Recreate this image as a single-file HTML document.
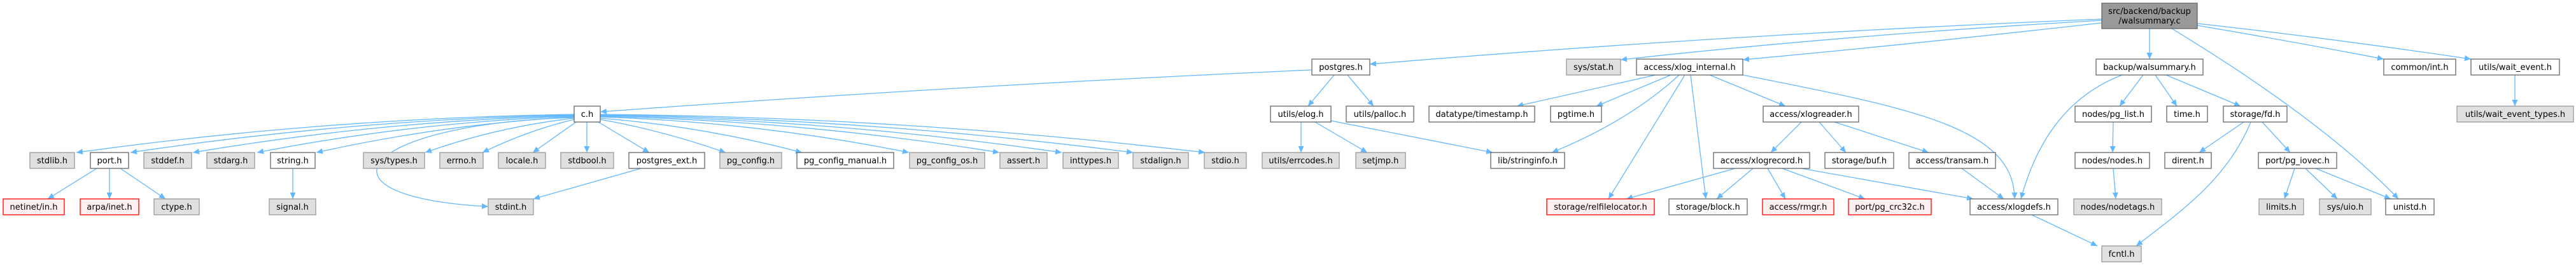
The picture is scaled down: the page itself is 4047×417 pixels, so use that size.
<!DOCTYPE html>
<html><head><meta charset="utf-8"><style>
html,body{margin:0;padding:0;background:#fff;}
svg{display:block;}
text{font-family:"DejaVu Sans","Liberation Sans",sans-serif;font-size:13px;fill:#000;text-anchor:middle;}
.w{fill:#fff;stroke:#666;stroke-width:1.3}
.g{fill:#e0e0e0;stroke:#999;stroke-width:1.3}
.r{fill:#fff0f0;stroke:#f00;stroke-width:1.3}
.t{fill:#999;stroke:#666;stroke-width:1.3}
path.e{fill:none;stroke:#63b8ff;stroke-width:1.3;marker-end:url(#a)}
</style></head><body>
<svg width="4047" height="417" viewBox="0 0 4047 417" xmlns="http://www.w3.org/2000/svg">
<defs><marker id="a" markerUnits="userSpaceOnUse" markerWidth="11" markerHeight="9" refX="10" refY="4.5" orient="auto"><path d="M0,0 L10,4.5 L0,9 z" fill="#63b8ff"/></marker></defs>

<!-- edges from top node -->
<path class="e" d="M3302,30 Q2700,55 2152,101"/>
<path class="e" d="M3302,32 Q2900,55 2546,94"/>
<path class="e" d="M3302,36 Q3000,70 2738,94"/>
<path class="e" d="M3377,45 L3377,93"/>
<path class="e" d="M3452,40 Q3600,65 3745,93"/>
<path class="e" d="M3452,37 Q3660,60 3882,93"/>
<path class="e" d="M3412,45 Q3650,190 3768,313"/>

<!-- postgres.h -->
<path class="e" d="M2061,110 Q1500,135 943,176"/>
<path class="e" d="M2096,118 L2055,167"/>
<path class="e" d="M2117,118 L2158,167"/>
<!-- elog -->
<path class="e" d="M2044,192 L2044,240"/>
<path class="e" d="M2066,192 L2148,240"/>
<path class="e" d="M2091,190 L2345,240"/>
<!-- xlog_internal -->
<path class="e" d="M2601,118 L2383,167"/>
<path class="e" d="M2625,118 L2508,167"/>
<path class="e" d="M2638,118 Q2560,190 2438,240"/>
<path class="e" d="M2647,118 L2527,313"/>
<path class="e" d="M2656,118 L2680,313"/>
<path class="e" d="M2686,118 L2805,167"/>
<path class="e" d="M2738,118 C3000,170 3165,200 3165,313"/>
<!-- xlogreader -->
<path class="e" d="M2830,192 L2782,240"/>
<path class="e" d="M2858,192 L2900,240"/>
<path class="e" d="M2882,192 L3030,240"/>
<!-- xlogrecord -->
<path class="e" d="M2726,265 L2555,313"/>
<path class="e" d="M2754,265 L2697,313"/>
<path class="e" d="M2777,265 L2805,313"/>
<path class="e" d="M2800,265 L2930,313"/>
<path class="e" d="M2830,265 L3100,313"/>
<path class="e" d="M3082,265 L3148,313"/>
<path class="e" d="M3192,338 L3295,387"/>
<!-- walsummary.h -->
<path class="e" d="M3334,118 C3250,150 3200,220 3175,313"/>
<path class="e" d="M3367,118 L3330,167"/>
<path class="e" d="M3386,118 L3420,167"/>
<path class="e" d="M3403,118 L3520,167"/>
<path class="e" d="M3320,192 L3319,240"/>
<path class="e" d="M3320,265 L3324,313"/>
<!-- fd.h -->
<path class="e" d="M3525,192 L3455,240"/>
<path class="e" d="M3554,192 L3598,240"/>
<path class="e" d="M3536,192 C3500,280 3430,330 3356,387"/>
<path class="e" d="M3605,265 L3589,313"/>
<path class="e" d="M3622,265 L3672,313"/>
<path class="e" d="M3638,265 L3756,313"/>
<path class="e" d="M3951,118 L3951,167"/>

<!-- c.h fan -->
<path class="e" d="M902,180 Q510,186 120,240"/>
<path class="e" d="M902,181 Q550,188 205,240"/>
<path class="e" d="M902,182 Q600,190 303,240"/>
<path class="e" d="M902,183 Q650,192 404,240"/>
<path class="e" d="M902,184 Q700,195 497,240"/>
<path class="e" d="M902,186 Q780,200 668,240"/>
<path class="e" d="M902,188 Q830,205 758,240"/>
<path class="e" d="M905,192 L837,240"/>
<path class="e" d="M922,192 L922,240"/>
<path class="e" d="M940,192 L1020,240"/>
<path class="e" d="M943,188 Q1040,205 1140,240"/>
<path class="e" d="M943,186 Q1100,198 1260,240"/>
<path class="e" d="M943,184 Q1190,192 1428,240"/>
<path class="e" d="M943,183 Q1260,190 1570,240"/>
<path class="e" d="M943,182 Q1310,188 1668,240"/>
<path class="e" d="M943,181 Q1360,186 1780,240"/>
<path class="e" d="M943,180 Q1420,184 1893,240"/>
<path class="e" d="M902,185 C560,195 480,310 767,325"/>
<!-- port / string / postgres_ext -->
<path class="e" d="M152,265 L75,313"/>
<path class="e" d="M172,265 L172,313"/>
<path class="e" d="M189,265 L260,313"/>
<path class="e" d="M460,265 L460,313"/>
<path class="e" d="M1007,265 L838,313"/>

<!-- nodes -->
<rect class="t" x="3302" y="5" width="150" height="40"/>
<text x="3377" y="22">src/backend/backup</text><text x="3377" y="37">/walsummary.c</text>

<rect class="w" x="2061" y="93" width="91" height="25"/><text x="2106.5" y="110">postgres.h</text>
<rect class="g" x="2461" y="93" width="85" height="25"/><text x="2503.5" y="110">sys/stat.h</text>
<rect class="w" x="2571" y="93" width="167" height="25"/><text x="2654.5" y="110">access/xlog_internal.h</text>
<rect class="w" x="3293" y="93" width="168" height="25"/><text x="3377" y="110">backup/walsummary.h</text>
<rect class="w" x="3745" y="93" width="113" height="25"/><text x="3801.5" y="110">common/int.h</text>
<rect class="w" x="3882" y="93" width="139" height="25"/><text x="3951.5" y="110">utils/wait_event.h</text>

<rect class="w" x="902" y="167" width="41" height="25"/><text x="922.5" y="184">c.h</text>
<rect class="w" x="1996" y="167" width="95" height="25"/><text x="2043.5" y="184">utils/elog.h</text>
<rect class="w" x="2115" y="167" width="106" height="25"/><text x="2168" y="184">utils/palloc.h</text>
<rect class="w" x="2245" y="167" width="166" height="25"/><text x="2328" y="184">datatype/timestamp.h</text>
<rect class="w" x="2436" y="167" width="80" height="25"/><text x="2476" y="184">pgtime.h</text>
<rect class="w" x="2770" y="167" width="150" height="25"/><text x="2845" y="184">access/xlogreader.h</text>
<rect class="w" x="3260" y="167" width="120" height="25"/><text x="3320" y="184">nodes/pg_list.h</text>
<rect class="w" x="3404" y="167" width="64" height="25"/><text x="3436" y="184">time.h</text>
<rect class="w" x="3493" y="167" width="100" height="25"/><text x="3543" y="184">storage/fd.h</text>
<rect class="g" x="3860" y="167" width="183" height="25"/><text x="3951.5" y="184">utils/wait_event_types.h</text>

<rect class="g" x="47" y="240" width="70" height="25"/><text x="82" y="257">stdlib.h</text>
<rect class="w" x="142" y="240" width="60" height="25"/><text x="172" y="257">port.h</text>
<rect class="g" x="226" y="240" width="75" height="25"/><text x="263.5" y="257">stddef.h</text>
<rect class="g" x="325" y="240" width="75" height="25"/><text x="362.5" y="257">stdarg.h</text>
<rect class="w" x="425" y="240" width="70" height="25"/><text x="460" y="257">string.h</text>
<rect class="g" x="571" y="240" width="96" height="25"/><text x="619" y="257">sys/types.h</text>
<rect class="g" x="691" y="240" width="68" height="25"/><text x="725" y="257">errno.h</text>
<rect class="g" x="783" y="240" width="74" height="25"/><text x="820" y="257">locale.h</text>
<rect class="g" x="881" y="240" width="83" height="25"/><text x="922.5" y="257">stdbool.h</text>
<rect class="w" x="988" y="240" width="119" height="25"/><text x="1047.5" y="257">postgres_ext.h</text>
<rect class="g" x="1131" y="240" width="97" height="25"/><text x="1179.5" y="257">pg_config.h</text>
<rect class="w" x="1252" y="240" width="152" height="25"/><text x="1328" y="257">pg_config_manual.h</text>
<rect class="g" x="1429" y="240" width="118" height="25"/><text x="1488" y="257">pg_config_os.h</text>
<rect class="g" x="1571" y="240" width="74" height="25"/><text x="1608" y="257">assert.h</text>
<rect class="g" x="1670" y="240" width="87" height="25"/><text x="1713.5" y="257">inttypes.h</text>
<rect class="g" x="1780" y="240" width="87" height="25"/><text x="1823.5" y="257">stdalign.h</text>
<rect class="g" x="1892" y="240" width="66" height="25"/><text x="1925" y="257">stdio.h</text>
<rect class="g" x="1983" y="240" width="121" height="25"/><text x="2043.5" y="257">utils/errcodes.h</text>
<rect class="g" x="2130" y="240" width="78" height="25"/><text x="2169" y="257">setjmp.h</text>
<rect class="w" x="2342" y="240" width="116" height="25"/><text x="2400" y="257">lib/stringinfo.h</text>
<rect class="w" x="2692" y="240" width="151" height="25"/><text x="2767.5" y="257">access/xlogrecord.h</text>
<rect class="w" x="2867" y="240" width="108" height="25"/><text x="2921" y="257">storage/buf.h</text>
<rect class="w" x="2999" y="240" width="136" height="25"/><text x="3067" y="257">access/transam.h</text>
<rect class="w" x="3260" y="240" width="117" height="25"/><text x="3318.5" y="257">nodes/nodes.h</text>
<rect class="w" x="3401" y="240" width="73" height="25"/><text x="3437.5" y="257">dirent.h</text>
<rect class="w" x="3548" y="240" width="123" height="25"/><text x="3609.5" y="257">port/pg_iovec.h</text>

<rect class="r" x="5" y="313" width="96" height="25"/><text x="53" y="330">netinet/in.h</text>
<rect class="r" x="126" y="313" width="92" height="25"/><text x="172" y="330">arpa/inet.h</text>
<rect class="g" x="242" y="313" width="71" height="25"/><text x="277.5" y="330">ctype.h</text>
<rect class="g" x="423" y="313" width="73" height="25"/><text x="459.5" y="330">signal.h</text>
<rect class="g" x="767" y="313" width="71" height="25"/><text x="802.5" y="330">stdint.h</text>
<rect class="r" x="2430" y="313" width="169" height="25"/><text x="2514.5" y="330">storage/relfilelocator.h</text>
<rect class="w" x="2622" y="313" width="123" height="25"/><text x="2683.5" y="330">storage/block.h</text>
<rect class="r" x="2769" y="313" width="112" height="25"/><text x="2825" y="330">access/rmgr.h</text>
<rect class="r" x="2904" y="313" width="130" height="25"/><text x="2969" y="330">port/pg_crc32c.h</text>
<rect class="w" x="3095" y="313" width="138" height="25"/><text x="3164" y="330">access/xlogdefs.h</text>
<rect class="g" x="3258" y="313" width="138" height="25"/><text x="3327" y="330">nodes/nodetags.h</text>
<rect class="g" x="3549" y="313" width="70" height="25"/><text x="3584" y="330">limits.h</text>
<rect class="g" x="3644" y="313" width="81" height="25"/><text x="3684.5" y="330">sys/uio.h</text>
<rect class="w" x="3748" y="313" width="76" height="25"/><text x="3786" y="330">unistd.h</text>

<rect class="g" x="3302" y="387" width="62" height="25"/><text x="3333" y="404">fcntl.h</text>
</svg>
</body></html>
